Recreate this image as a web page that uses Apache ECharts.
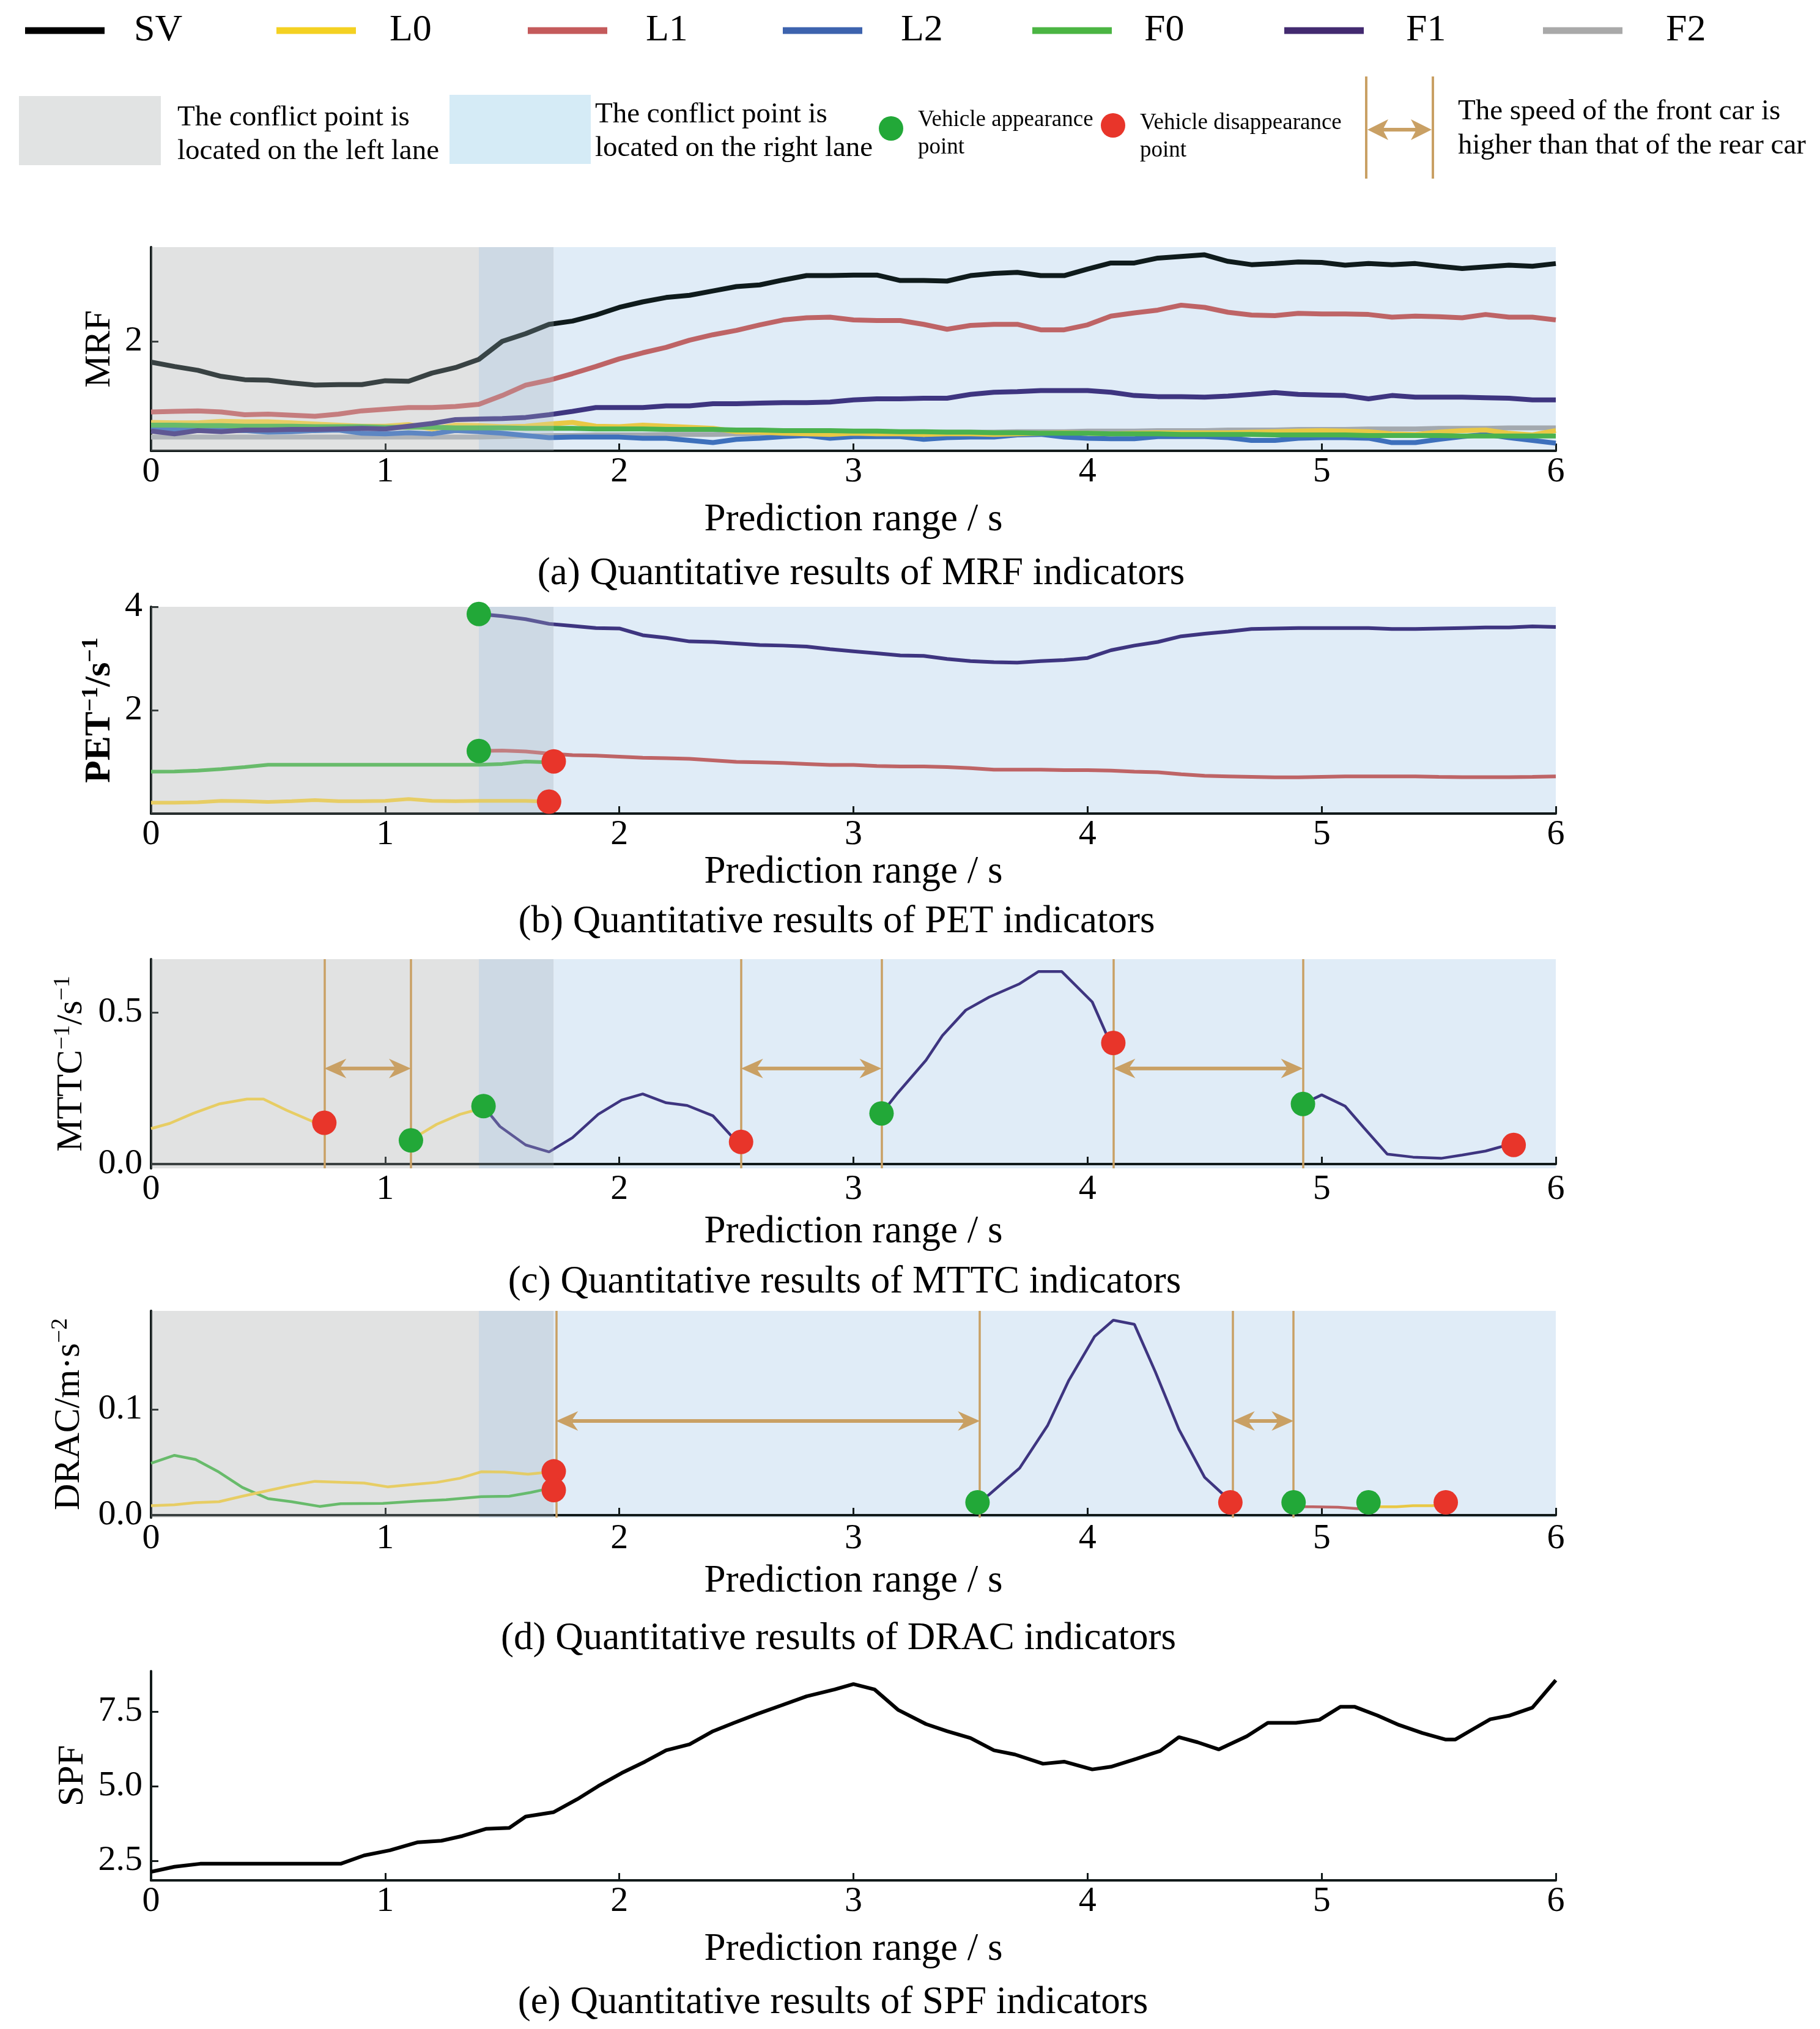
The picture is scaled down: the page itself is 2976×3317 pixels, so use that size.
<!DOCTYPE html>
<html>
<head>
<meta charset="utf-8">
<script src="https://cdn.jsdelivr.net/npm/echarts@6/dist/echarts.min.js"></script>
<style>
html,body{margin:0;padding:0;background:#fff;}
#chart{width:2976px;height:3317px;}
</style>
</head>
<body>
<div id="chart"></div>
<script>
// ---------------- DATA ----------------
const T = [0,0.1,0.2,0.3,0.4,0.5,0.6,0.7,0.8,0.9,1.0,1.1,1.2,1.3,1.4,1.5,1.6,1.7,1.8,1.9,2.0,2.1,2.2,2.3,2.4,2.5,2.6,2.7,2.8,2.9,3.0,3.1,3.2,3.3,3.4,3.5,3.6,3.7,3.8,3.9,4.0,4.1,4.2,4.3,4.4,4.5,4.6,4.7,4.8,4.9,5.0,5.1,5.2,5.3,5.4,5.5,5.6,5.7,5.8,5.9,6.0];

// (a) MRF
const mrfSV = [1.62,1.54,1.47,1.36,1.30,1.29,1.24,1.20,1.21,1.21,1.28,1.27,1.42,1.52,1.67,2.00,2.14,2.31,2.37,2.48,2.62,2.72,2.80,2.84,2.92,3.00,3.03,3.12,3.20,3.20,3.21,3.21,3.11,3.11,3.10,3.20,3.24,3.26,3.20,3.20,3.32,3.43,3.43,3.52,3.55,3.58,3.46,3.40,3.42,3.45,3.44,3.39,3.42,3.40,3.42,3.37,3.33,3.36,3.39,3.37,3.42];
const mrfL0 = [0.52,0.51,0.51,0.54,0.53,0.53,0.51,0.49,0.47,0.45,0.45,0.48,0.40,0.47,0.46,0.44,0.45,0.49,0.52,0.45,0.44,0.47,0.45,0.43,0.41,0.35,0.34,0.32,0.31,0.30,0.32,0.31,0.31,0.30,0.31,0.31,0.30,0.31,0.32,0.33,0.32,0.31,0.32,0.33,0.33,0.33,0.33,0.34,0.35,0.36,0.37,0.36,0.35,0.31,0.30,0.34,0.37,0.38,0.32,0.29,0.37];
const mrfL1 = [0.71,0.72,0.73,0.71,0.66,0.67,0.65,0.63,0.67,0.73,0.76,0.79,0.79,0.81,0.85,1.01,1.20,1.29,1.41,1.54,1.68,1.79,1.89,2.02,2.12,2.20,2.30,2.39,2.43,2.44,2.39,2.38,2.38,2.31,2.22,2.29,2.31,2.31,2.21,2.21,2.30,2.46,2.52,2.57,2.66,2.62,2.53,2.48,2.47,2.51,2.50,2.50,2.49,2.44,2.46,2.45,2.43,2.49,2.44,2.44,2.39];
const mrfL2 = [0.43,0.38,0.39,0.38,0.37,0.34,0.35,0.37,0.38,0.32,0.31,0.33,0.31,0.37,0.35,0.32,0.28,0.24,0.25,0.25,0.25,0.23,0.23,0.19,0.15,0.21,0.23,0.26,0.28,0.23,0.26,0.26,0.26,0.21,0.24,0.25,0.25,0.29,0.30,0.25,0.23,0.22,0.22,0.26,0.26,0.26,0.24,0.19,0.19,0.23,0.24,0.24,0.23,0.15,0.15,0.21,0.26,0.30,0.24,0.19,0.14];
const mrfF0 = [0.47,0.47,0.46,0.46,0.45,0.45,0.45,0.44,0.44,0.44,0.43,0.43,0.43,0.42,0.42,0.42,0.41,0.41,0.41,0.40,0.40,0.40,0.39,0.39,0.39,0.38,0.38,0.37,0.37,0.37,0.36,0.36,0.35,0.35,0.34,0.34,0.33,0.33,0.32,0.32,0.32,0.31,0.31,0.31,0.30,0.30,0.30,0.30,0.29,0.29,0.29,0.29,0.28,0.28,0.28,0.28,0.27,0.27,0.27,0.27,0.27];
const mrfF1 = [0.36,0.31,0.37,0.35,0.38,0.38,0.39,0.39,0.40,0.41,0.40,0.45,0.50,0.57,0.58,0.59,0.61,0.66,0.72,0.79,0.79,0.79,0.82,0.82,0.86,0.86,0.87,0.88,0.88,0.89,0.93,0.95,0.95,0.96,0.96,1.03,1.07,1.08,1.10,1.10,1.10,1.07,1.01,0.99,0.99,0.98,1.00,1.03,1.065,1.03,1.02,1.01,0.95,1.01,0.98,0.98,0.98,0.97,0.96,0.93,0.93];
const mrfF2 = [0.25,0.25,0.25,0.25,0.25,0.25,0.25,0.25,0.25,0.25,0.25,0.25,0.25,0.25,0.25,0.26,0.27,0.28,0.28,0.29,0.29,0.29,0.30,0.30,0.30,0.31,0.31,0.31,0.32,0.32,0.32,0.33,0.33,0.33,0.34,0.34,0.34,0.35,0.35,0.35,0.36,0.36,0.36,0.37,0.37,0.37,0.38,0.38,0.38,0.39,0.39,0.39,0.40,0.40,0.40,0.41,0.41,0.41,0.42,0.42,0.42];
const mrfTicks = [2];

// (b) PET (F1, L1 from 1.4 s; F0, L0 until 1.7 s)
const petF1 = [3.86,3.82,3.76,3.67,3.63,3.59,3.58,3.45,3.40,3.33,3.32,3.29,3.26,3.25,3.23,3.18,3.14,3.10,3.06,3.05,2.99,2.95,2.93,2.92,2.95,2.97,3.01,3.16,3.25,3.32,3.43,3.48,3.52,3.57,3.58,3.59,3.59,3.59,3.59,3.57,3.57,3.58,3.59,3.60,3.60,3.62,3.61];
const petL1 = [1.21,1.22,1.20,1.16,1.13,1.12,1.10,1.08,1.07,1.06,1.03,1.00,0.99,0.98,0.96,0.94,0.94,0.92,0.91,0.91,0.90,0.88,0.85,0.85,0.85,0.84,0.84,0.83,0.81,0.80,0.76,0.73,0.72,0.71,0.70,0.70,0.71,0.72,0.72,0.72,0.72,0.71,0.705,0.705,0.705,0.71,0.72];
const petF0 = [0.81,0.815,0.83,0.86,0.90,0.945,0.945,0.945,0.945,0.945,0.945,0.945,0.945,0.945,0.945,0.96,1.005,0.99];
const petL0 = [0.21,0.21,0.22,0.245,0.24,0.225,0.24,0.26,0.24,0.24,0.245,0.28,0.245,0.24,0.245,0.245,0.245,0.23];
const petAppear = [[1.4,3.86],[1.4,1.21]];
const petVanish = [[1.72,1.01],[1.7,0.23]];
const petTicks = [2,4];

// (c) MTTC
const mttcL0a = [[0,0.117],[0.08,0.134],[0.18,0.167],[0.29,0.198],[0.41,0.214],[0.48,0.214],[0.58,0.177],[0.7,0.137],[0.74,0.136]];
const mttcL0b = [[1.11,0.078],[1.14,0.094],[1.22,0.131],[1.32,0.164],[1.4,0.181]];
const mttcF1a = [[1.42,0.19],[1.49,0.124],[1.6,0.063],[1.7,0.04],[1.8,0.087],[1.91,0.164],[2.01,0.211],[2.1,0.231],[2.2,0.202],[2.29,0.193],[2.4,0.159],[2.49,0.083],[2.52,0.073]];
const mttcF1b = [[3.12,0.167],[3.19,0.235],[3.31,0.342],[3.38,0.423],[3.48,0.507],[3.58,0.55],[3.71,0.594],[3.79,0.634],[3.89,0.634],[4.02,0.534],[4.08,0.429],[4.11,0.399]];
const mttcF1c = [[4.92,0.198],[5.0,0.228],[5.1,0.191],[5.18,0.12],[5.28,0.033],[5.39,0.023],[5.51,0.019],[5.6,0.03],[5.7,0.043],[5.78,0.06],[5.82,0.063]];
const mttcAppear = [[1.11,0.078],[1.42,0.191],[3.12,0.167],[4.92,0.198]];
const mttcVanish = [[0.74,0.136],[2.52,0.073],[4.11,0.399],[5.82,0.063]];
const mttcSpeedLines = [0.74,1.11,2.52,3.12,4.11,4.92];
const mttcArrows = [[0.74,1.11],[2.52,3.12],[4.11,4.92]];
const mttcArrowY = 0.315;
const mttcTicks = [0,0.5];

// (d) DRAC
const dracF0 = [[0,0.049],[0.1,0.0565],[0.19,0.0526],[0.29,0.0407],[0.39,0.0262],[0.5,0.0156],[0.6,0.0127],[0.72,0.0083],[0.81,0.0108],[0.99,0.0112],[1.14,0.0133],[1.26,0.0146],[1.41,0.0175],[1.53,0.0179],[1.62,0.0214],[1.7,0.0252]];
const dracL0a = [[0,0.0089],[0.1,0.0098],[0.19,0.0118],[0.29,0.0127],[0.39,0.0179],[0.5,0.0233],[0.6,0.0281],[0.7,0.032],[0.81,0.031],[0.91,0.0304],[1.01,0.0268],[1.12,0.0291],[1.22,0.031],[1.32,0.0349],[1.41,0.041],[1.51,0.0407],[1.61,0.0387],[1.7,0.0407]];
const dracF1 = [[3.53,0.0121],[3.58,0.0195],[3.71,0.0445],[3.83,0.085],[3.92,0.1274],[4.03,0.1688],[4.11,0.1842],[4.2,0.1803],[4.29,0.1351],[4.39,0.0811],[4.5,0.0358],[4.58,0.0195],[4.61,0.0121]];
const dracL1 = [[4.89,0.008],[4.96,0.008],[5.07,0.0075],[5.17,0.006]];
const dracL0b = [[5.24,0.0079],[5.32,0.0079],[5.39,0.0089],[5.47,0.0089],[5.53,0.0095]];
const dracAppear = [[3.53,0.0121],[4.88,0.0121],[5.2,0.0121]];
const dracVanish = [[1.72,0.0414],[1.72,0.0237],[4.61,0.0121],[5.53,0.0121]];
const dracSpeedLines = [1.73,3.54,4.62,4.88];
const dracArrows = [[1.73,3.54],[4.62,4.88]];
const dracArrowY = 0.089;
const dracTicks = [0,0.1];

// (e) SPF
const spfT = [0.00,0.10,0.21,0.37,0.81,0.91,1.02,1.14,1.24,1.33,1.43,1.53,1.60,1.72,1.82,1.91,2.01,2.11,2.20,2.30,2.40,2.49,2.59,2.69,2.80,2.92,3.00,3.09,3.19,3.31,3.40,3.50,3.60,3.69,3.81,3.90,4.02,4.10,4.21,4.31,4.39,4.47,4.56,4.68,4.77,4.89,4.99,5.08,5.14,5.24,5.33,5.43,5.53,5.57,5.64,5.72,5.80,5.90,6.00];
const spfV = [2.13,2.30,2.40,2.40,2.40,2.68,2.85,3.12,3.17,3.33,3.57,3.60,3.98,4.13,4.56,5.00,5.44,5.82,6.20,6.40,6.84,7.12,7.42,7.70,8.01,8.24,8.42,8.24,7.56,7.08,6.84,6.61,6.20,6.06,5.75,5.82,5.56,5.65,5.92,6.18,6.64,6.47,6.23,6.67,7.12,7.12,7.22,7.66,7.66,7.36,7.05,6.78,6.56,6.56,6.88,7.24,7.36,7.63,8.55];
const spfTicks = [2.5,5,7.5];

// legend
const seriesNames = ['SV','L0','L1','L2','F0','F1','F2'];
const legendColors = ['#000000','#F4D122','#C45A5B','#3D63AE','#4BB543','#432A70','#A9A9A9'];

// ---------------- STYLE ----------------
const FONT = "'Liberation Serif','Times New Roman',serif";
const AXC = '#121a1a';
const TAN = '#C9A064';
const GREEN = '#22A838';
const RED = '#E8352A';
const C = {SV:'#0f1b1c', L0:'#E9C845', L1:'#BE6466', L2:'#3D70BC', F0:'#4AB24E', F1:'#3E3580', F2:'#A3A9AF'};

const grids = [
  {top:404, height:333},
  {top:992, height:338},
  {top:1568, height:342},
  {top:2143, height:338},
  {top:2732, height:342}
];

function xAx(i, gap){
  return {type:'value', gridIndex:i, min:0, max:6, interval:1, z:2,
    axisLine:{lineStyle:{color:AXC, width:4}},
    axisTick:{inside:true, length:12, lineStyle:{color:AXC, width:3}},
    axisLabel:{margin:6, fontSize:58, fontFamily:FONT, color:'#000'},
    splitLine:{show:false},
    name:'Prediction range / s', nameLocation:'middle', nameGap:gap,
    nameTextStyle:{fontSize:63, fontFamily:FONT, color:'#000'}};
}
const richName = {
  n:{fontSize:60, fontFamily:FONT, color:'#000', lineHeight:66},
  s:{fontSize:38, fontFamily:FONT, color:'#000', verticalAlign:'top', lineHeight:66},
  b:{fontSize:60, fontFamily:FONT, color:'#000', fontWeight:'bold', lineHeight:66},
  bs:{fontSize:38, fontFamily:FONT, color:'#000', fontWeight:'bold', verticalAlign:'top', lineHeight:66}
};
function yAx(i, min, max, ticks, fmt, name, gap){
  return {type:'value', gridIndex:i, min:min, max:max, z:2,
    axisLine:{show:true, lineStyle:{color:AXC, width:4}},
    axisTick:{show:true, inside:true, length:12, customValues:ticks, lineStyle:{color:AXC, width:3}},
    axisLabel:{customValues:ticks, formatter:fmt, margin:14, fontSize:58, fontFamily:FONT, color:'#000'},
    splitLine:{show:false},
    name:name, nameLocation:'middle', nameGap:gap, nameRotate:90,
    nameTextStyle:{rich:richName, fontSize:60, fontFamily:FONT, color:'#000'}};
}

const series = [];
function lineS(i, name, data, color, width){
  series.push({type:'line', name:name, xAxisIndex:i, yAxisIndex:i, data:data, showSymbol:false, symbol:'none',
    lineStyle:{color:color, width:width}, itemStyle:{color:color}, z:2, silent:true});
}
function bg(i){
  series.push({type:'line', name:'bg'+i, xAxisIndex:i, yAxisIndex:i, data:[], silent:true,
    markArea:{silent:true, z:1, data:[
      [{xAxis:0, itemStyle:{color:'#E2E3E3'}},{xAxis:1.4}],
      [{xAxis:1.4, itemStyle:{color:'#CDD9E4'}},{xAxis:1.72}],
      [{xAxis:1.72, itemStyle:{color:'#E0ECF7'}},{xAxis:6}]
    ]}});
  series.push({type:'line', name:'ov'+i, xAxisIndex:i, yAxisIndex:i, data:[], silent:true,
    markArea:{silent:true, z:3, data:[
      [{xAxis:0, itemStyle:{color:'rgba(226,227,227,0.2)'}},{xAxis:1.4}],
      [{xAxis:1.4, itemStyle:{color:'rgba(205,217,228,0.22)'}},{xAxis:1.72}]
    ]}});
}
function dots(i, data, color){
  series.push({type:'scatter', xAxisIndex:i, yAxisIndex:i, data:data, symbolSize:40, z:6, silent:true,
    itemStyle:{color:color, opacity:1}});
}
function arrowItem(params, api){
  const a = api.coord([api.value(0), api.value(2)]);
  const b = api.coord([api.value(1), api.value(2)]);
  const L = 36, W = 16, N = 11, y = a[1];
  return {type:'group', children:[
    {type:'line', shape:{x1:a[0]+L-N, y1:y, x2:b[0]-L+N, y2:y}, style:{stroke:TAN, lineWidth:6}},
    {type:'polygon', shape:{points:[[a[0],y],[a[0]+L,y-W],[a[0]+L-N,y],[a[0]+L,y+W]]}, style:{fill:TAN}},
    {type:'polygon', shape:{points:[[b[0],y],[b[0]-L,y-W],[b[0]-L+N,y],[b[0]-L,y+W]]}, style:{fill:TAN}}
  ]};
}
function speed(i, xs, arrows, ay){
  series.push({type:'line', xAxisIndex:i, yAxisIndex:i, data:[], silent:true,
    markLine:{silent:true, z:4, symbol:'none', label:{show:false},
      lineStyle:{color:TAN, width:3.5, type:'solid'},
      data: xs.map(v => ({xAxis:v}))}});
  series.push({type:'custom', xAxisIndex:i, yAxisIndex:i, silent:true, z:4,
    data: arrows.map(p => [p[0], p[1], ay]),
    encode:{x:[0,1], y:2},
    renderItem: arrowItem});
}
const pair = (xs, ys) => ys.map((v,k) => [xs[k], v]);

// (a)
bg(0);
lineS(0,'F2', pair(T, mrfF2), C.F2, 8);
lineS(0,'L2', pair(T, mrfL2), C.L2, 8);
lineS(0,'L0', pair(T, mrfL0), C.L0, 8);
lineS(0,'F0', pair(T, mrfF0), C.F0, 8);
lineS(0,'F1', pair(T, mrfF1), C.F1, 8);
lineS(0,'L1', pair(T, mrfL1), C.L1, 8);
lineS(0,'SV', pair(T, mrfSV), C.SV, 8);
// (b)
bg(1);
lineS(1,'pet F0', pair(T.slice(0,18), petF0), C.F0, 6);
lineS(1,'pet L0', pair(T.slice(0,18), petL0), C.L0, 6);
lineS(1,'pet L1', pair(T.slice(14), petL1), C.L1, 6);
lineS(1,'pet F1', pair(T.slice(14), petF1), C.F1, 6);
dots(1, petAppear, GREEN); dots(1, petVanish, RED);
// (c)
bg(2);
lineS(2,'mttc L0a', mttcL0a, C.L0, 4.5);
lineS(2,'mttc L0b', mttcL0b, C.L0, 4.5);
lineS(2,'mttc F1a', mttcF1a, C.F1, 4.5);
lineS(2,'mttc F1b', mttcF1b, C.F1, 4.5);
lineS(2,'mttc F1c', mttcF1c, C.F1, 4.5);
speed(2, mttcSpeedLines, mttcArrows, mttcArrowY);
dots(2, mttcAppear, GREEN); dots(2, mttcVanish, RED);
// (d)
bg(3);
lineS(3,'drac F0', dracF0, C.F0, 4.5);
lineS(3,'drac L0a', dracL0a, C.L0, 4.5);
lineS(3,'drac F1', dracF1, C.F1, 4.5);
lineS(3,'drac L1', dracL1, C.L1, 4.5);
lineS(3,'drac L0b', dracL0b, C.L0, 4.5);
speed(3, dracSpeedLines, dracArrows, dracArrowY);
dots(3, dracAppear, GREEN); dots(3, dracVanish, RED);
// (e)
lineS(4,'SPF', pair(spfT, spfV), '#000', 6);

// legends (row 1)
const legStarts = [36,447,858,1275,1683,2095,2518];
const legPads = [43,50,58,58,48,64,66];
const legends = seriesNames.map((n,k) => ({
  left:legStarts[k], top:12, orient:'horizontal', selectedMode:false,
  itemWidth:130, itemHeight:11,
  data:[{name:n, icon:'rect', itemStyle:{color:legendColors[k], borderWidth:0}}],
  textStyle:{fontSize:62, fontFamily:FONT, color:'#000', padding:[0,0,0,legPads[k]], lineHeight:66}
}));

// row 2 legend + captions as graphic
const tx = (x,y,text,size,align,lh) => ({type:'text', x:x, y:y, silent:true,
  style:{text:text, fontSize:size, fontFamily:FONT, fill:'#000', align:align||'left', verticalAlign:'middle', lineHeight:lh||size*1.2}});
const graphics = [
  {type:'rect', shape:{x:31,y:157,width:232,height:113}, style:{fill:'#E1E3E3'}, silent:true},
  tx(290,220,'The conflict point is\nlocated on the left lane',47,'left',55),
  {type:'rect', shape:{x:735,y:155,width:231,height:113}, style:{fill:'#D5EBF6'}, silent:true},
  tx(973,215,'The conflict point is\nlocated on the right lane',47,'left',55),
  {type:'circle', shape:{cx:1457,cy:210,r:20}, style:{fill:GREEN}, silent:true},
  tx(1501,219,'Vehicle appearance\npoint',37,'left',45),
  {type:'circle', shape:{cx:1820,cy:205,r:20}, style:{fill:RED}, silent:true},
  tx(1864,224,'Vehicle disappearance\npoint',37,'left',45),
  {type:'line', shape:{x1:2234,y1:125,x2:2234,y2:292}, style:{stroke:TAN,lineWidth:4}, silent:true},
  {type:'line', shape:{x1:2343,y1:125,x2:2343,y2:292}, style:{stroke:TAN,lineWidth:4}, silent:true},
  {type:'line', shape:{x1:2260,y1:212,x2:2317,y2:212}, style:{stroke:TAN,lineWidth:6}, silent:true},
  {type:'polygon', shape:{points:[[2236,212],[2270,195],[2261,212],[2270,229]]}, style:{fill:TAN}, silent:true},
  {type:'polygon', shape:{points:[[2341,212],[2307,195],[2316,212],[2307,229]]}, style:{fill:TAN}, silent:true},
  tx(2384,211,'The speed of the front car is\nhigher than that of the rear car',47,'left',56),
  tx(1408,938,'(a) Quantitative results of MRF indicators',63,'center'),
  tx(1368,1507,'(b) Quantitative results of PET indicators',63,'center'),
  tx(1381,2096,'(c) Quantitative results of MTTC indicators',63,'center'),
  tx(1371,2679,'(d) Quantitative results of DRAC indicators',63,'center'),
  tx(1362,3274,'(e) Quantitative results of SPF indicators',63,'center')
];

const f1 = v => v.toFixed(1);
const option = {
  animation:false,
  backgroundColor:'#ffffff',
  legend: legends,
  grid: grids.map(g => ({left:247, width:2297, top:g.top, height:g.height})),
  xAxis: [xAx(0,82), xAx(1,58), xAx(2,73), xAx(3,73), xAx(4,82)],
  yAxis: [
    yAx(0, 0, 3.72, mrfTicks, v => String(v), '{n|MRF}', 50),
    yAx(1, 0, 4, petTicks, v => String(v), '{b|PET}{bs|−1}{b|/s}{bs|−1}', 50),
    yAx(2, -0.014, 0.675, mttcTicks, f1, '{n|MTTC}{s|−1}{n|/s}{s|−1}', 97),
    yAx(3, -0.0023, 0.193, dracTicks, f1, '{n|DRAC/m·s}{s|−2}', 101),
    yAx(4, 1.844, 8.852, spfTicks, f1, '{n|SPF}', 95)
  ],
  series: series,
  graphic: graphics
};
const chart = echarts.init(document.getElementById('chart'), null, {renderer:'canvas', width:2976, height:3317});
chart.setOption(option);
</script>
</body>
</html>
